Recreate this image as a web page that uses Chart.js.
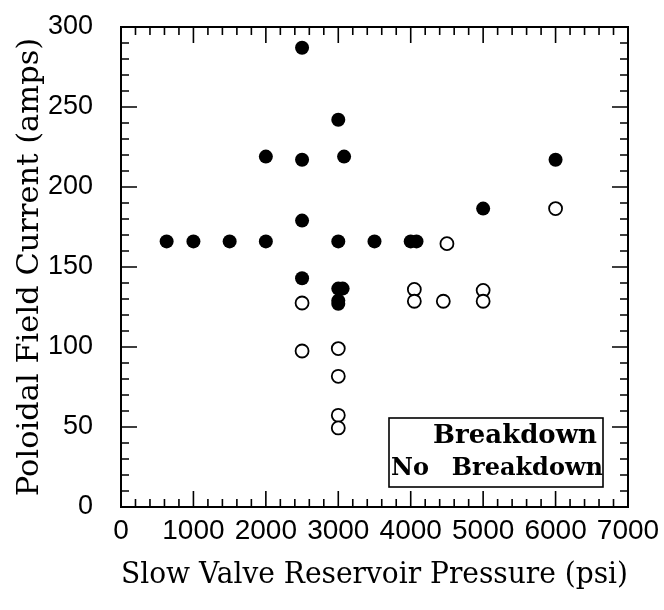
<!DOCTYPE html>
<html>
<head>
<meta charset="utf-8">
<script src="https://cdn.jsdelivr.net/npm/chart.js@4.4.0/dist/chart.umd.min.js"></script>
<style>
  body { margin: 0; background: #fff; }
  canvas { display: block; }
</style>
</head>
<body>
<canvas id="myChart" width="664" height="610"></canvas>
<script>
  // slow valve pressure (psi) vs poloidal field current (amps)
  const breakdownX = [630, 1000, 1500, 2000, 3000, 3500, 4000, 4080, 2500, 2500, 3000, 3060, 3000, 3000, 2000, 2500, 3080, 2500, 3000, 5000, 6000];
  const breakdownY = [166, 166, 166, 166, 166, 166, 166, 166, 179, 143, 136.5, 136.5, 129, 127, 219, 217, 219, 287, 242, 186.5, 217];

  const noBreakdownX = [4500, 6000, 2500, 2500, 3000, 3000, 3000, 3000, 4050, 4050, 4450, 5000, 5000];
  const noBreakdownY = [164.6, 186.5, 127.5, 97.5, 99, 81.7, 57.3, 49.4, 136, 128.6, 128.6, 135.4, 128.6];

  const seriesLabels = ['Breakdown', 'No Breakdown'];

  const xRange = [0, 7000];
  const yRange = [0, 300];

  function toPoints(xs, ys) {
    return xs.map(function (v, i) { return {x: v, y: ys[i]}; });
  }

  // box round the plot, with inward ticks on all four sides
  const framePlugin = {
    id: 'frame',
    beforeDatasetsDraw(chart) {
      const ctx = chart.ctx;
      const a = chart.chartArea;
      const x = chart.scales.x, y = chart.scales.y;
      ctx.save();
      ctx.strokeStyle = '#000';
      ctx.lineWidth = 2;
      ctx.strokeRect(a.left, a.top, a.right - a.left, a.bottom - a.top);
      ctx.lineWidth = 1.6;
      ctx.beginPath();
      for (let v = x.min; v <= x.max; v += 200) {
        const px = x.getPixelForValue(v);
        const len = v % 1000 === 0 ? 16 : 8;
        ctx.moveTo(px, a.bottom); ctx.lineTo(px, a.bottom - len);
        ctx.moveTo(px, a.top); ctx.lineTo(px, a.top + len);
      }
      for (let v = y.min; v <= y.max; v += 10) {
        const py = y.getPixelForValue(v);
        const len = v % 50 === 0 ? 16 : 8;
        ctx.moveTo(a.left, py); ctx.lineTo(a.left + len, py);
        ctx.moveTo(a.right, py); ctx.lineTo(a.right - len, py);
      }
      ctx.stroke();
      ctx.restore();
    }
  };

  // boxed legend in the lower right corner (text only, as in the original)
  const legendBox = {
    id: 'legendBox',
    afterDraw(chart) {
      const ctx = chart.ctx;
      const a = chart.chartArea;
      const labels = chart.data.datasets.map(function (d) { return d.label; });
      const right = a.right - 25, bottom = a.bottom - 20;
      const w = 214, h = 69;
      const left = right - w, top = bottom - h;
      ctx.save();
      ctx.fillStyle = '#fff';
      ctx.fillRect(left, top, w, h);
      ctx.strokeStyle = '#000';
      ctx.lineWidth = 1.6;
      ctx.strokeRect(left, top, w, h);
      ctx.fillStyle = '#000';
      ctx.textBaseline = 'alphabetic';
      ctx.font = 'bold 26px "DejaVu Serif"';
      ctx.textAlign = 'right';
      ctx.fillText(labels[0], right - 6, top + 25);
      const parts = labels[1].split(' ');
      ctx.font = 'bold 24px "DejaVu Serif"';
      ctx.textAlign = 'left';
      ctx.fillText(parts[0], left + 2, top + 57);
      ctx.textAlign = 'right';
      ctx.fillText(parts.slice(1).join(' '), right, top + 57);
      ctx.restore();
    }
  };

  const data = {
    datasets: [{
      label: seriesLabels[0],
      data: toPoints(breakdownX, breakdownY),
      pointRadius: 7,
      pointBackgroundColor: '#000',
      pointBorderColor: '#000',
      pointBorderWidth: 0
    }, {
      label: seriesLabels[1],
      data: toPoints(noBreakdownX, noBreakdownY),
      pointRadius: 6.5,
      pointBackgroundColor: '#fff',
      pointBorderColor: '#000',
      pointBorderWidth: 1.8
    }]
  };

  const config = {
    type: 'scatter',
    data: data,
    options: {
      responsive: false,
      devicePixelRatio: 1,
      animation: false,
      layout: { padding: { left: 8, right: 36, top: 27, bottom: 17 } },
      plugins: { legend: { display: false }, tooltip: { enabled: false } },
      scales: {
        x: {
          type: 'linear',
          min: xRange[0], max: xRange[1],
          grid: { display: false, drawTicks: false },
          border: { display: false },
          ticks: {
            stepSize: 1000, autoSkip: false, maxRotation: 0, color: '#000', padding: 7,
            font: { family: '"Liberation Sans", Arial, sans-serif', size: 28 },
            callback: function (v) { return String(v); }
          },
          title: {
            display: true, text: 'Slow Valve Reservoir Pressure (psi)', color: '#000',
            font: { family: '"DejaVu Serif", serif', size: 30 },
            padding: { top: 6, bottom: 0 }
          },
          afterFit(s) { s.height = 86; s.paddingLeft = 0; s.paddingRight = 0; }
        },
        y: {
          type: 'linear',
          min: yRange[0], max: yRange[1],
          grid: { display: false, drawTicks: false },
          border: { display: false },
          ticks: {
            stepSize: 50, color: '#000', padding: 28,
            font: { family: '"Liberation Sans", Arial, sans-serif', size: 27 }
          },
          title: {
            display: true, text: 'Poloidal Field Current (amps)', color: '#000',
            font: { family: '"DejaVu Serif", serif', size: 30.5 },
            padding: { top: 4, bottom: 0 }
          },
          afterFit(s) { s.width = 113; s.paddingTop = 0; s.paddingBottom = 0; }
        }
      }
    },
    plugins: [framePlugin, legendBox]
  };

  const myChart = new Chart(document.getElementById('myChart'), config);
</script>
</body>
</html>
